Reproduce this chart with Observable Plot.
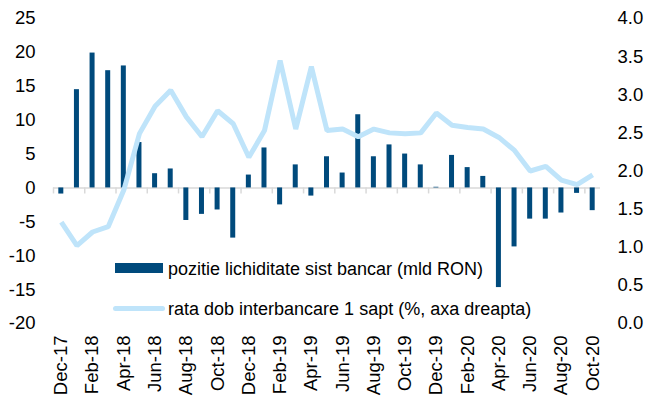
<!DOCTYPE html>
<html>
<head>
<meta charset="utf-8">
<script src="https://cdn.jsdelivr.net/npm/d3@7"></script>
<script src="https://cdn.jsdelivr.net/npm/@observablehq/plot@0.6"></script>
<style>
  html, body { margin: 0; padding: 0; background: #fff; }
  #wrap { position: relative; width: 646px; height: 401px; overflow: hidden; font-family: "Liberation Sans", Arial, sans-serif; }
  .leg { position: absolute; font-size: 18px; color: #000; white-space: nowrap; line-height: 1; }
  .sw { position: absolute; }
</style>
</head>
<body>
<div id="wrap"></div>
<script>
const categories = ["Dec-17","Jan-18","Feb-18","Mar-18","Apr-18","May-18","Jun-18","Jul-18","Aug-18","Sep-18","Oct-18","Nov-18",
  "Dec-18","Jan-19","Feb-19","Mar-19","Apr-19","May-19","Jun-19","Jul-19","Aug-19","Sep-19","Oct-19","Nov-19",
  "Dec-19","Jan-20","Feb-20","Mar-20","Apr-20","May-20","Jun-20","Jul-20","Aug-20","Sep-20","Oct-20"];
const liquidity = [-0.9, 14.5, 19.9, 17.3, 18.0, 6.7, 2.1, 2.8, -4.8, -3.9, -3.25, -7.4,
  1.9, 5.9, -2.5, 3.4, -1.2, 4.6, 2.2, 10.8, 4.6, 6.35, 5.0, 3.4,
  0.1, 4.8, 3.0, 1.7, -14.7, -8.7, -4.6, -4.6, -3.7, -0.8, -3.35];
const rate = [1.33, 1.02, 1.2, 1.27, 1.75, 2.49, 2.85, 3.06, 2.71, 2.45, 2.79, 2.62,
  2.18, 2.53, 3.45, 2.55, 3.37, 2.53, 2.55, 2.45, 2.55, 2.50, 2.49, 2.50,
  2.76, 2.60, 2.57, 2.55, 2.44, 2.27, 2.00, 2.06, 1.88, 1.82, 1.95];
const leftTicks = [-20, -15, -10, -5, 0, 5, 10, 15, 20, 25];
const rightTicks = [0.0, 0.5, 1.0, 1.5, 2.0, 2.5, 3.0, 3.5, 4.0];
const seriesNames = ["pozitie lichiditate sist bancar (mld RON)", "rata dob interbancare 1 sapt (%, axa dreapta)"];

const leftDomain = [-20, 25];
const rightDomain = [0, 4];
const toLeft = r => leftDomain[0] + (r - rightDomain[0]) * (leftDomain[1] - leftDomain[0]) / (rightDomain[1] - rightDomain[0]);
const fromLeft = v => rightDomain[0] + (v - leftDomain[0]) * (rightDomain[1] - rightDomain[0]) / (leftDomain[1] - leftDomain[0]);

const data = categories.map((c, i) => ({cat: c, liq: liquidity[i], rate: rate[i]}));
const labelCats = categories.filter((_, i) => i % 2 === 0);

const W = 646, H = 401, mL = 53, mR = 46, mT = 18, mB = 78;
const step = (W - mL - mR) / categories.length;
const barColor = "#004a7c";
const lineColor = "#bfe4fa";

const chart = Plot.plot({
  width: W, height: H,
  marginTop: mT, marginBottom: mB, marginLeft: mL, marginRight: mR,
  style: {fontFamily: "'Liberation Sans', Arial, sans-serif", fontSize: "18px", color: "#000", background: "#fff", overflow: "visible"},
  x: {type: "band", domain: categories, padding: 0, round: false, axis: null, label: null},
  y: {domain: leftDomain, axis: null, label: null},
  marks: [
    Plot.ruleY([0], {stroke: "#d9d9d9", strokeWidth: 1.5}),
    Plot.ruleX(labelCats, {x: d => d, y1: 0, y2: 0, insetBottom: -6, dx: -step / 2, stroke: "#d9d9d9", strokeWidth: 1.5}),
    Plot.barY(data, {x: "cat", y: "liq", fill: barColor, insetLeft: (step - 5) / 2, insetRight: (step - 5) / 2}),
    Plot.line(data, {x: "cat", y: d => toLeft(d.rate), stroke: lineColor, strokeWidth: 5, strokeLinejoin: "miter", strokeLinecap: "butt"}),
    Plot.axisY({anchor: "left", ticks: leftTicks, tickSize: 0, tickPadding: 18, fontSize: 18.5, label: null, tickFormat: d => String(d)}),
    Plot.axisY({anchor: "right", ticks: rightTicks.map(toLeft), tickSize: 0, tickPadding: 17, fontSize: 18.5, label: null, tickFormat: d => fromLeft(d).toFixed(1)}),
    Plot.axisX({anchor: "bottom", ticks: labelCats, tickRotate: -90, tickSize: 0, tickPadding: 12, fontSize: 18.5, label: null})
  ]
});

const wrap = document.getElementById("wrap");
wrap.appendChild(chart);

// Legend (HTML overlay)
const sw1 = document.createElement("div");
sw1.className = "sw";
Object.assign(sw1.style, {left: "115px", top: "263px", width: "48px", height: "10px", background: barColor});
wrap.appendChild(sw1);
const t1 = document.createElement("div");
t1.className = "leg";
t1.textContent = seriesNames[0];
Object.assign(t1.style, {left: "168px", top: "260px"});
wrap.appendChild(t1);

const sw2 = document.createElement("div");
sw2.className = "sw";
Object.assign(sw2.style, {left: "113px", top: "306px", width: "52px", height: "5px", background: lineColor, borderRadius: "3px"});
wrap.appendChild(sw2);
const t2 = document.createElement("div");
t2.className = "leg";
t2.textContent = seriesNames[1];
Object.assign(t2.style, {left: "168px", top: "300px"});
wrap.appendChild(t2);
</script>
</body>
</html>
